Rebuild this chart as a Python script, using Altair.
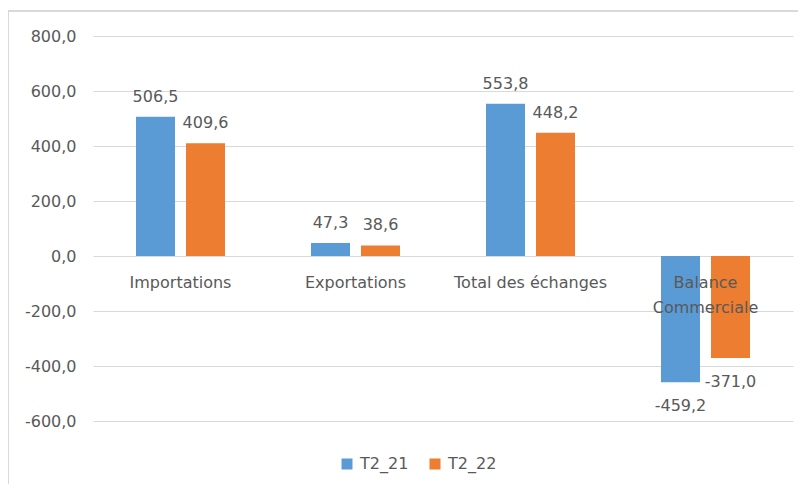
import altair as alt
import pandas as pd

categories = ["Importations", "Exportations", "Total des échanges", "Balance Commerciale"]
cat_lines = [["Importations"], ["Exportations"], ["Total des échanges"], ["Balance", "Commerciale"]]
series = ["T2_21", "T2_22"]
t2_21 = [506.5, 47.3, 553.8, -459.2]
t2_22 = [409.6, 38.6, 448.2, -371.0]
y_ticks = [-600, -400, -200, 0, 200, 400, 600, 800]
colors = ["#5B9BD5", "#ED7D31"]

rows = []
for c, a, b in zip(categories, t2_21, t2_22):
    rows.append({"cat": c, "serie": series[0], "val": a})
    rows.append({"cat": c, "serie": series[1], "val": b})
df = pd.DataFrame(rows)
df_cat = pd.DataFrame({"cat": categories, "lines": cat_lines, "zero": [0] * len(categories)})

FONT = "DejaVu Sans"
GREY = "#595959"
FMT = "replace(replace(format({v}, '.1f'), '.', ','), '\u2212', '-')"

x_enc = alt.X("cat:N", sort=categories, axis=None,
              scale=alt.Scale(paddingInner=0, paddingOuter=0))
x_off = alt.XOffset("serie:N", sort=series,
                    scale=alt.Scale(paddingInner=0.22, paddingOuter=0.86))
y_scale = alt.Scale(domain=[-600, 800], nice=False, zero=False)

bars = alt.Chart(df).mark_bar().encode(
    x=x_enc,
    xOffset=x_off,
    y=alt.Y("val:Q", scale=y_scale, title=None,
            axis=alt.Axis(values=y_ticks, domain=False, ticks=False,
                          labelExpr=FMT.format(v="datum.value"),
                          labelFont=FONT, labelFontSize=16, labelColor=GREY,
                          labelPadding=17, gridColor="#D9D9D9", gridWidth=1)),
    color=alt.Color("serie:N", sort=series,
                    scale=alt.Scale(domain=series, range=colors),
                    legend=alt.Legend(title=None, orient="none", direction="horizontal",
                                      legendX=246, legendY=420,
                                      symbolType="square", symbolSize=121,
                                      symbolStrokeWidth=0,
                                      labelFont=FONT, labelFontSize=16, labelColor=GREY,
                                      labelOffset=5, columnPadding=18)),
)

base_text = alt.Chart(df).transform_calculate(lab=FMT.format(v="datum.val"))

pos_text = base_text.transform_filter("datum.val >= 0").mark_text(
    font=FONT, fontSize=16, color=GREY, baseline="alphabetic", dy=-15
).encode(x=x_enc, xOffset=x_off, y=alt.Y("val:Q", scale=y_scale), text="lab:N")

neg_text = base_text.transform_filter("datum.val < 0").mark_text(
    font=FONT, fontSize=16, color=GREY, baseline="alphabetic", dy=29
).encode(x=x_enc, xOffset=x_off, y=alt.Y("val:Q", scale=y_scale), text="lab:N")

cat_text = alt.Chart(df_cat).mark_text(
    font=FONT, fontSize=16, color=GREY, baseline="top", dy=19, lineHeight=25
).encode(x=alt.X("cat:N", sort=categories), y=alt.Y("zero:Q", scale=y_scale), text="lines")

border = alt.Chart(df_cat).mark_rect(
    fill=None, stroke="#D9D9D9", strokeWidth=2
).encode(x=alt.value(-85), x2=alt.value(760), y=alt.value(-25), y2=alt.value(480))

chart = alt.layer(border, bars, pos_text, neg_text, cat_text).properties(
    width=700, height=385,
    autosize=alt.AutoSizeParams(type="none"),
    padding={"left": 85, "top": 28, "right": 5, "bottom": 63},
).configure(background="white", view=alt.ViewConfig(stroke=None))

chart.save("out.html", embed_options={"renderer": "svg", "actions": False})
